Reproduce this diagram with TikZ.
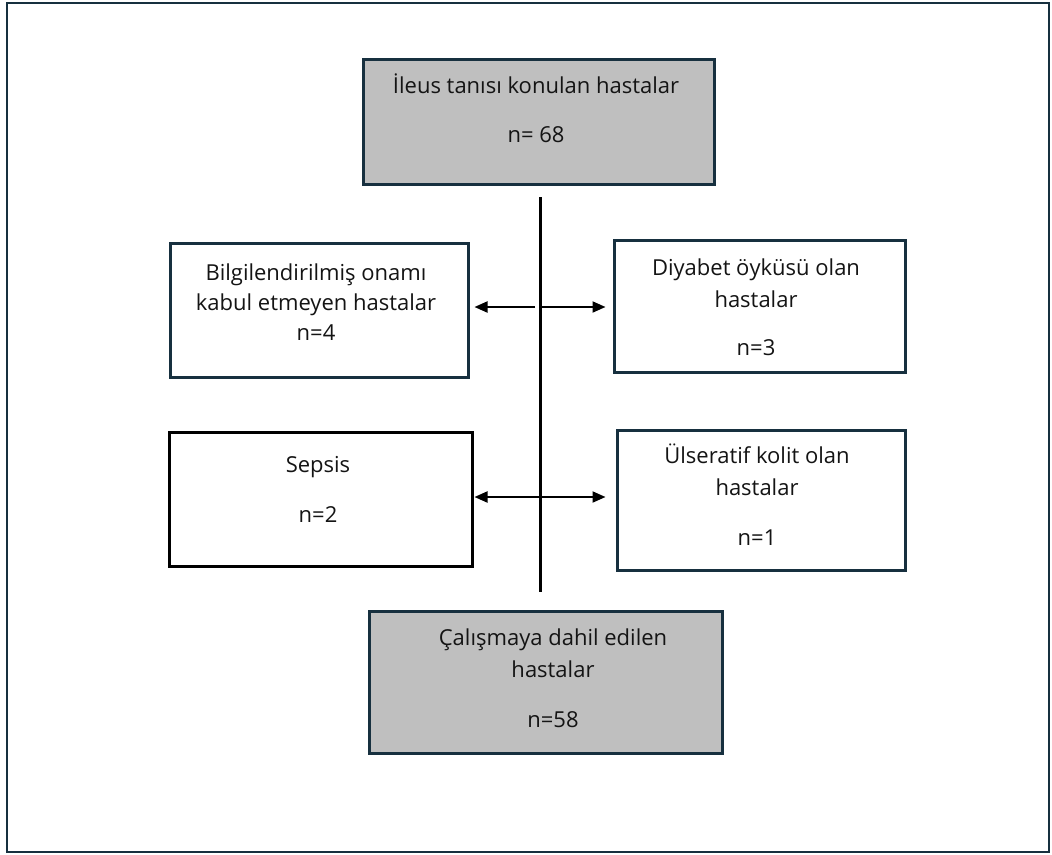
\documentclass[tikz,border=0pt]{standalone}
\usepackage{fontspec}
\setmainfont{Open Sans}
\usetikzlibrary{arrows.meta}
\definecolor{navy}{HTML}{17303F}
\definecolor{boxgray}{HTML}{BFBFBF}
\definecolor{txtcol}{HTML}{141414}
\begin{document}
\begin{tikzpicture}[x=1pt,y=-1pt,
  framebox/.style={draw=navy,line width=2.5pt},
  graybox/.style={draw=navy,fill=boxgray,line width=3pt,inner sep=0pt},
  whitebox/.style={draw=navy,fill=white,line width=3pt,inner sep=0pt},
  blackbox/.style={draw=black,fill=white,line width=3pt,inner sep=0pt},
  txt/.style={anchor=base,inner sep=0pt,text=txtcol,font=\fontsize{22}{26}\selectfont},
  stem/.style={draw=black,line width=3pt},
  arr/.style={draw=black,line width=2pt,-{Triangle[length=13pt,width=11pt]}}
]
\useasboundingbox (0,0) rectangle (1052,854);
\fill[white] (0,0) rectangle (1052,854);
\draw[framebox] (7,3) rectangle (1049,852);

% boxes
\node[graybox,minimum width=351pt,minimum height=125pt] (top) at (538.5,121.5) {};
\node[whitebox,minimum width=298pt,minimum height=134pt] (l1) at (319,310) {};
\node[whitebox,minimum width=291pt,minimum height=132pt] (r1) at (759.5,306) {};
\node[blackbox,minimum width=303pt,minimum height=134pt] (l2) at (320.5,499) {};
\node[whitebox,minimum width=288pt,minimum height=140pt] (r2) at (761,500) {};
\node[graybox,minimum width=353pt,minimum height=142pt] (bot) at (545.5,682) {};

% texts
\node[txt] (t1a) at (536,93) {İleus tanısı konulan hastalar};
\node[txt] (t1b) at (536,142) {n= 68};
\node[txt] (t2a) at (316,280) {Bilgilendirilmiş onamı};
\node[txt] (t2b) at (316,310) {kabul etmeyen hastalar};
\node[txt] (t2c) at (316,340) {n=4};
\node[txt] (t3a) at (756,275) {Diyabet öyküsü olan};
\node[txt] (t3b) at (756,307) {hastalar};
\node[txt] (t3c) at (756,355) {n=3};
\node[txt] (t4a) at (318,472) {Sepsis};
\node[txt] (t4b) at (318,522) {n=2};
\node[txt] (t5a) at (757,463) {Ülseratif kolit olan};
\node[txt] (t5b) at (757,495) {hastalar};
\node[txt] (t5c) at (757,545) {n=1};
\node[txt] (t6a) at (553,645) {Çalışmaya dahil edilen};
\node[txt] (t6b) at (553,677) {hastalar};
\node[txt] (t6c) at (553,727) {n=58};

% stem and arrows
\coordinate (s1) at (540,197);
\coordinate (s2) at (540,592);
\draw[stem] (s1) -- (s2);
\coordinate (j1l) at (535,307);
\coordinate (j1r) at (542,307);
\coordinate (j2) at (540,497);
\draw[arr] (j1l) -- ([xshift=5pt]l1.east |- j1l);
\draw[arr] (j1r) -- ([xshift=-7pt]r1.west |- j1r);
\draw[arr] (j2) -- ([xshift=1pt]l2.east |- j2);
\draw[arr] (j2) -- ([xshift=-10pt]r2.west |- j2);
\end{tikzpicture}
\end{document}
